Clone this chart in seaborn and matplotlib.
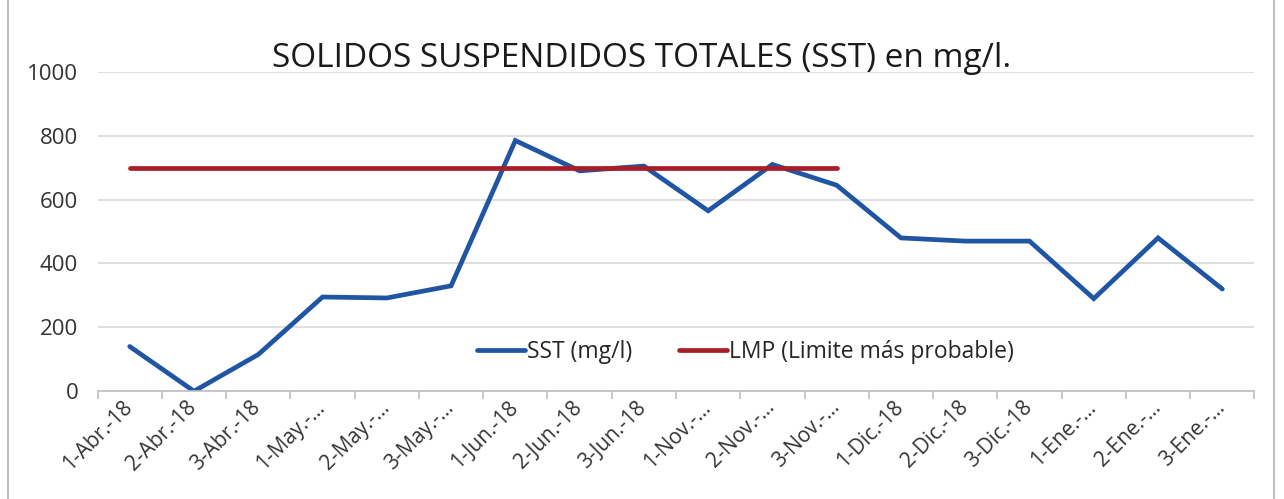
import matplotlib
matplotlib.use("Agg")
import matplotlib.pyplot as plt
import matplotlib.transforms as mtransforms
import seaborn as sns
import pandas as pd
import numpy as np
from matplotlib.patches import Rectangle

categories = ["1-Abr.-18", "2-Abr.-18", "3-Abr.-18", "1-May.-…", "2-May.-…", "3-May.-…",
              "1-Jun.-18", "2-Jun.-18", "3-Jun.-18", "1-Nov.-…", "2-Nov.-…", "3-Nov.-…",
              "1-Dic.-18", "2-Dic.-18", "3-Dic.-18", "1-Ene.-…", "2-Ene.-…", "3-Ene.-…"]
sst = [140, 0, 115, 295, 292, 330, 785, 690, 705, 565, 710, 645, 480, 470, 470, 290, 480, 320]
lmp = [700] * 12
yticks = [0, 200, 400, 600, 800, 1000]

sns.set_theme(style="white")
plt.rcParams['font.family'] = ['Open Sans', 'DejaVu Sans']

df = pd.DataFrame({
    "x": list(range(len(sst))) + list(range(len(lmp))),
    "y": sst + lmp,
    "serie": ["SST (mg/l)"] * len(sst) + ["LMP (Limite más probable)"] * len(lmp),
})

fig = plt.figure(figsize=(12.84, 4.99), dpi=100)
ax = fig.add_axes([0.076, 0.216, 0.901, 0.640])

palette = {"SST (mg/l)": "#1F55A3", "LMP (Limite más probable)": "#A71E26"}
sns.lineplot(data=df, x="x", y="y", hue="serie", palette=palette, linewidth=3.4,
             ax=ax, legend=True, solid_capstyle="round", solid_joinstyle="miter")

ax.set_xlim(-0.5, len(categories) - 0.5)
ax.set_ylim(0, 1000)
ax.set_yticks(yticks)
ax.set_yticklabels([str(v) for v in yticks], fontsize=16, color="#333333")
ax.yaxis.grid(True, color="#D9D9D9", linewidth=1.2)
ax.set_axisbelow(True)
ax.set_xlabel("")
ax.set_ylabel("")

ax.set_xticks(range(len(categories)))
ax.set_xticklabels(categories, rotation=45, ha="right", rotation_mode="anchor",
                   fontsize=15, color="#333333")
ax.tick_params(axis="x", which="major", length=0, pad=4)
offset = mtransforms.ScaledTranslation(-8 / 100, 0, fig.dpi_scale_trans)
for lbl in ax.get_xticklabels():
    lbl.set_transform(lbl.get_transform() + offset)
ax.set_xticks(np.arange(-0.5, len(categories), 1.0), minor=True)
ax.tick_params(axis="x", which="minor", length=6, color="#BFBFBF", width=1.2, direction="out", bottom=True)
ax.tick_params(axis="y", length=0, pad=14)

for s in ["left", "right", "top"]:
    ax.spines[s].set_visible(False)
ax.spines["bottom"].set_color("#BFBFBF")
ax.spines["bottom"].set_linewidth(1.2)

leg = ax.legend(loc="lower center", bbox_to_anchor=(0.56, 0.02), ncol=2, frameon=False,
                fontsize=16.5, handlelength=2.1, handletextpad=0.1, columnspacing=2.0)

fig.text(0.5, 0.882, "SOLIDOS SUSPENDIDOS TOTALES (SST) en mg/l.", ha="center", va="center",
         fontsize=24, color="#1A1A1A")

fig.patches.append(Rectangle((0.006, -0.01), 0.986, 1.02, transform=fig.transFigure,
                             fill=False, edgecolor="#BFBFBF", linewidth=1.5))

fig.savefig("out.png", dpi=100, facecolor="white")
